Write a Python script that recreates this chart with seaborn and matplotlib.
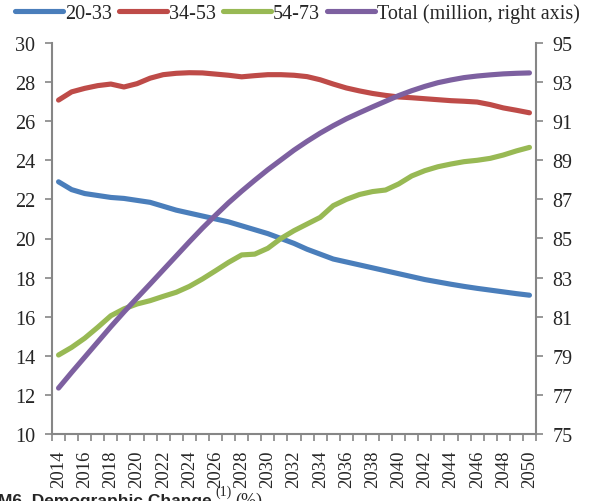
import numpy as np
import pandas as pd
import matplotlib
matplotlib.use("Agg")
import matplotlib.pyplot as plt
import seaborn as sns
from matplotlib.ticker import FixedLocator

years = list(range(2014, 2051))

age_20_33 = [22.9, 22.5, 22.3, 22.2, 22.1, 22.05, 21.95, 21.85, 21.65, 21.45,
             21.3, 21.15, 21.0, 20.85, 20.65, 20.45, 20.25, 20.0, 19.75, 19.45,
             19.2, 18.95, 18.8, 18.65, 18.5, 18.35, 18.2, 18.05, 17.9, 17.78,
             17.66, 17.55, 17.45, 17.36, 17.27, 17.18, 17.1]
age_34_53 = [27.08, 27.5, 27.68, 27.82, 27.9, 27.75, 27.92, 28.2, 28.38, 28.45,
             28.48, 28.47, 28.41, 28.35, 28.27, 28.33, 28.38, 28.38, 28.35, 28.28,
             28.12, 27.9, 27.7, 27.55, 27.42, 27.32, 27.24, 27.2, 27.15, 27.1,
             27.05, 27.02, 26.98, 26.85, 26.68, 26.56, 26.43]
age_54_73 = [14.04, 14.43, 14.9, 15.46, 16.05, 16.4, 16.65, 16.82, 17.04, 17.25,
             17.55, 17.93, 18.35, 18.78, 19.16, 19.2, 19.5, 20.0, 20.4, 20.74,
             21.08, 21.68, 22.0, 22.25, 22.4, 22.48, 22.79, 23.2, 23.47, 23.67,
             23.81, 23.93, 24.0, 24.1, 24.27, 24.48, 24.66]
total = [77.35, 78.15, 78.93, 79.71, 80.49, 81.24, 81.96, 82.67, 83.39, 84.11,
         84.83, 85.53, 86.19, 86.83, 87.42, 87.98, 88.52, 89.02, 89.52, 89.97,
         90.39, 90.77, 91.12, 91.43, 91.73, 92.02, 92.31, 92.56, 92.78, 92.97,
         93.11, 93.23, 93.31, 93.37, 93.42, 93.45, 93.47]

labels = ["20-33", "34-53", "54-73", "Total (million, right axis)"]
colors = ["#4A7EBB", "#BE4B48", "#98B954", "#7D60A0"]

sns.set_style("white")
plt.rcParams['font.family'] = ['Liberation Serif', 'DejaVu Serif']

df = pd.DataFrame({"year": years * 3,
                   "value": age_20_33 + age_34_53 + age_54_73,
                   "group": [labels[0]] * len(years) + [labels[1]] * len(years) + [labels[2]] * len(years)})
dft = pd.DataFrame({"year": years, "value": total})

W, H = 597, 502
fig = plt.figure(figsize=(W/100, H/100), dpi=100)
ax = fig.add_axes([52/W, 1-435/H, 484/W, 391/H])
ax2 = ax.twinx()

lw = 3.7
sns.lineplot(data=df, x="year", y="value", hue="group", hue_order=labels[:3],
             palette=colors[:3], linewidth=lw, ax=ax, legend=False)
sns.lineplot(data=dft, x="year", y="value", color=colors[3], linewidth=lw, ax=ax2, legend=False)
for l in ax.get_lines() + ax2.get_lines():
    l.set_solid_capstyle('round')

ax.set_xlim(2013.5, 2050.5)
ax.set_ylim(10, 30)
ax2.set_ylim(75, 95)
ax.set_yticks(np.arange(10, 31, 2))
ax2.set_yticks(np.arange(75, 96, 2))
ax.set_xticks(years[::2])
ax.xaxis.set_minor_locator(FixedLocator(np.arange(2013.5, 2051, 1)))
ax.set_xticklabels([str(y) for y in years[::2]], rotation=90)
ax.set_xlabel("")
ax.set_ylabel("")
ax2.set_ylabel("")

spine_c = "#868686"
for a in (ax, ax2):
    for s in a.spines.values():
        s.set_visible(False)
ax.spines['left'].set_visible(True)
ax.spines['bottom'].set_visible(True)
ax2.spines['right'].set_visible(True)
for s in (ax.spines['left'], ax.spines['bottom'], ax2.spines['right']):
    s.set_color(spine_c)
    s.set_linewidth(1.5)

fs = 14.5
ax.tick_params(axis='y', which='major', direction='out', length=5, width=1.2, color=spine_c,
               labelsize=fs, pad=7, left=True)
ax2.tick_params(axis='y', which='major', direction='out', length=5, width=1.2, color=spine_c,
                labelsize=fs, pad=7, right=True)
ax.tick_params(axis='x', which='major', length=0, labelsize=13.5, pad=11)
ax.tick_params(axis='x', which='minor', direction='out', length=5, width=1.2, color=spine_c, bottom=True)

handles = [plt.Line2D([], [], color=c, linewidth=lw, solid_capstyle='round') for c in colors]
lfs = 14.5
em = lfs * 100 / 72.0
leg_kw = dict(loc='center left', ncol=4, frameon=False, fontsize=lfs, handlelength=48/em,
              handletextpad=0.1, borderaxespad=0, borderpad=0)
cs = 0.5
leg = fig.legend(handles, labels, bbox_to_anchor=(15/W, 1-14/H), columnspacing=cs, **leg_kw)
fig.canvas.draw()
r = fig.canvas.get_renderer()
bb = leg.get_window_extent(r)
target = 565.0
cs = max(0.1, cs + (target - bb.width) / 3 / em)
leg.remove()
leg = fig.legend(handles, labels, bbox_to_anchor=(15/W, 1-14/H), columnspacing=cs, **leg_kw)

t1 = fig.text(-2/W, 1-494/H, "M6. Demographic Change", fontsize=12.5, fontweight='bold',
              va='top', ha='left', family=['Liberation Sans'])
fig.canvas.draw()
b1 = t1.get_window_extent(fig.canvas.get_renderer())
x1 = b1.x1 / W
fig.text(x1 + 4/W, 1-486/H, "(1)", fontsize=10, va='top', ha='left')
fig.text(x1 + 24/W, 1-493/H, "(%)", fontsize=13, va='top', ha='left')

fig.savefig("out.png", dpi=100)
